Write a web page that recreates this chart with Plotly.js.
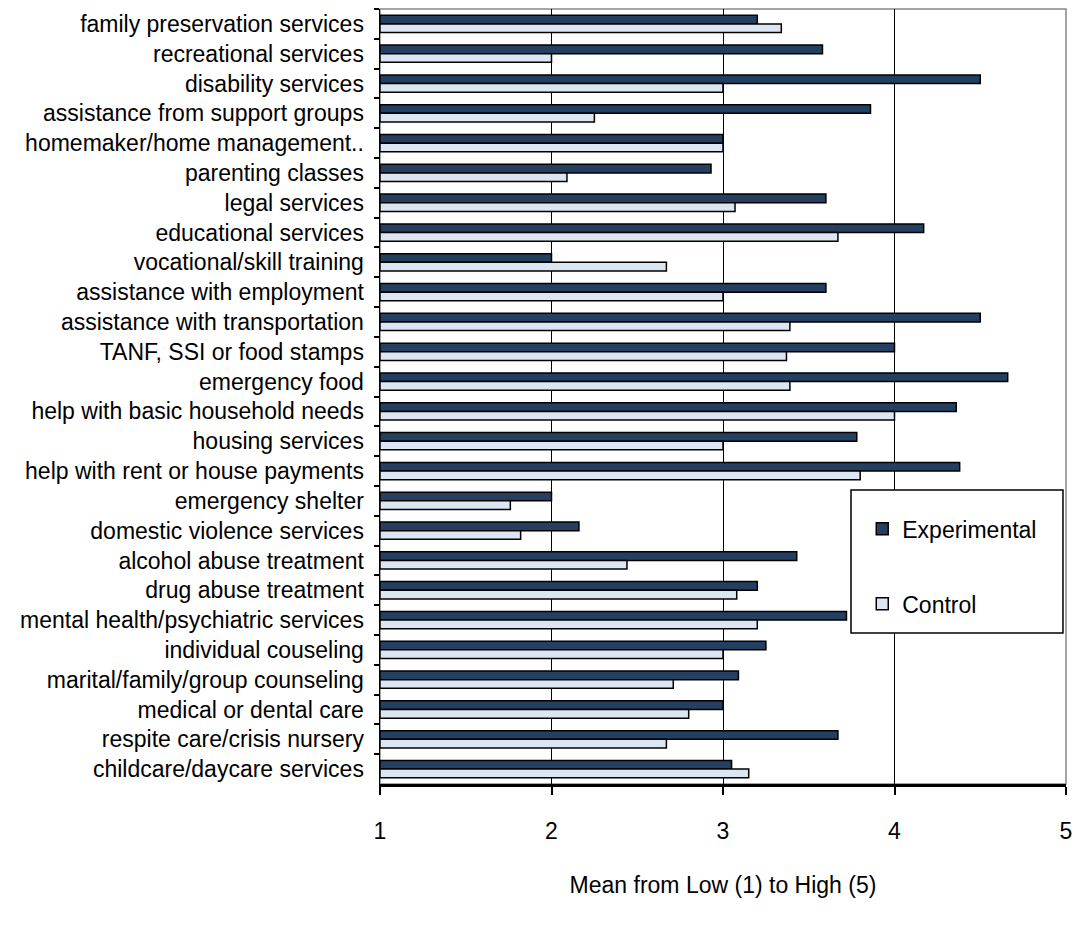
<!DOCTYPE html>
<html><head><meta charset="utf-8">
<script src="https://cdn.plot.ly/plotly-3.0.1.min.js"></script>
<style>html,body{margin:0;padding:0;background:#fff;}#chart{width:1076px;height:926px;}</style>
</head><body><div id="chart"></div>
<script>
const categories = [
  "family preservation services","recreational services","disability services",
  "assistance from support groups","homemaker/home management..","parenting classes",
  "legal services","educational services","vocational/skill training",
  "assistance with employment","assistance with transportation","TANF, SSI or food stamps",
  "emergency food","help with basic household needs","housing services",
  "help with rent or house payments","emergency shelter","domestic violence services",
  "alcohol abuse treatment","drug abuse treatment","mental health/psychiatric services",
  "individual couseling","marital/family/group counseling","medical or dental care",
  "respite care/crisis nursery","childcare/daycare services"
];
const experimental = [3.20,3.58,4.50,3.86,3.00,2.93,3.60,4.17,2.00,3.60,4.50,4.00,4.66,4.36,3.78,4.38,2.00,2.16,3.43,3.20,3.72,3.25,3.09,3.00,3.67,3.05];
const control      = [3.34,2.00,3.00,2.25,3.00,2.09,3.07,3.67,2.67,3.00,3.39,3.37,3.39,4.00,3.00,3.80,1.76,1.82,2.44,3.08,3.20,3.00,2.71,2.80,2.67,3.15];
const seriesNames = ["Experimental","Control"];
const xTicks = [1,2,3,4,5];

const FONT = "Liberation Sans, Arial, sans-serif";
// bars start at x=1 (axis origin)
const traces = [
  {type:'bar', orientation:'h', name:seriesNames[0], y:categories, x:experimental.map(v=>v-1), base:1,
   marker:{color:'#243F60', line:{color:'#000', width:1.5}}, legendgroup:'a'},
  {type:'bar', orientation:'h', name:seriesNames[1], y:categories, x:control.map(v=>v-1), base:1,
   marker:{color:'#DCE6F2', line:{color:'#000', width:1.5}}, legendgroup:'b'}
];
const layout = {
  width:1076, height:926,
  margin:{l:380, r:10, t:9, b:142},
  paper_bgcolor:'#fff', plot_bgcolor:'#fff',
  font:{family:FONT, color:'#000', size:23},
  barmode:'group', bargap:0.42, bargroupgap:0,
  showlegend:true,
  legend:{x:0.703, xanchor:'left', y:0.357, yanchor:'top', bgcolor:'rgba(0,0,0,0)',
          borderwidth:0, font:{family:FONT, size:23, color:'#000'}, traceorder:'grouped',
          tracegroupgap:42},
  xaxis:{range:[1,5], tickvals:xTicks, ticktext:xTicks.map(String), showgrid:true, gridcolor:'#000', gridwidth:1,
         showline:true, linecolor:'#000', linewidth:2.5, ticks:'outside', ticklen:8, tickwidth:2, tickcolor:'#000',
         tickfont:{family:FONT, size:23}, ticklabelstandoff:17, zeroline:false, fixedrange:true,
         title:{text:'Mean from Low (1) to High (5)', font:{family:FONT, size:23}, standoff:34}},
  yaxis:{type:'category', autorange:'reversed', showgrid:false, showline:true, linecolor:'#000', linewidth:1.5,
         ticks:'outside', ticklen:5, tickwidth:2, tickcolor:'#000', tickson:'boundaries',
         tickfont:{family:FONT, size:23}, ticklabelstandoff:10, zeroline:false},
  shapes:[
    {type:'rect', xref:'paper', yref:'paper', x0:0, x1:1, y0:0, y1:1, line:{color:'#888', width:1.5}, layer:'below'},
    {type:'rect', xref:'paper', yref:'paper', x0:0.6866, x1:0.9956, y0:0.1948, y1:0.3794,
     fillcolor:'#fff', line:{color:'#000', width:1.5}, layer:'above'}
  ]
};
Plotly.newPlot('chart', traces, layout, {displayModeBar:false, staticPlot:true});
</script></body></html>
